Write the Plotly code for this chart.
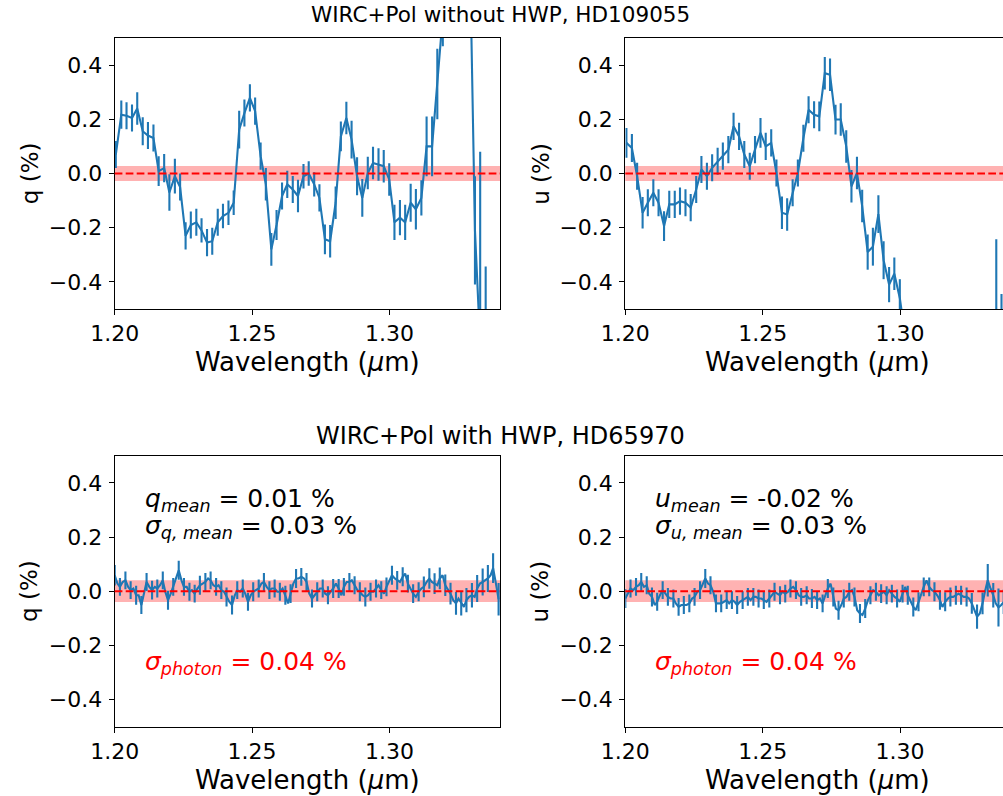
import plotly.graph_objects as go

# ---------------- data ----------------
WAVE_TOP = [1.2004, 1.2024, 1.2043, 1.2063, 1.2082, 1.2102, 1.2121, 1.2141, 1.2160, 1.2180,
            1.2199, 1.2219, 1.2238, 1.2258, 1.2277, 1.2297, 1.2316, 1.2336, 1.2355, 1.2375,
            1.2394, 1.2414, 1.2433, 1.2453, 1.2472, 1.2492, 1.2511, 1.2531, 1.2550, 1.2570,
            1.2589, 1.2609, 1.2628, 1.2648, 1.2667, 1.2687, 1.2706, 1.2726, 1.2745, 1.2765,
            1.2784, 1.2804, 1.2823, 1.2843, 1.2862, 1.2882, 1.2901, 1.2921, 1.2940, 1.2960,
            1.2979, 1.2999, 1.3018, 1.3038, 1.3057, 1.3077, 1.3096, 1.3116, 1.3135, 1.3155,
            1.3174, 1.3194, 1.3213, 1.3233, 1.3252, 1.3272, 1.3291, 1.3311, 1.3330, 1.3350,
            1.3369]

Q_TOP = [0.07, 0.217, 0.213, 0.205, 0.24, 0.156, 0.14, 0.131, 0.009, 0.02,
         -0.07, -0.01, -0.05, -0.23, -0.19, -0.18, -0.21, -0.255, -0.25, -0.18,
         -0.157, -0.145, -0.108, 0.162, 0.223, 0.279, 0.23, 0.064, -0.04, -0.28,
         -0.19, -0.083, -0.04, -0.059, -0.083, -0.01, 0.0, -0.04, -0.09, -0.243,
         -0.25, -0.108, 0.137, 0.205, 0.125, -0.01, -0.09, 0.002, 0.039, 0.033,
         0.027, -0.022, -0.18, -0.163, -0.18, -0.108, -0.132, -0.09, 0.10, 0.10,
         0.33, 0.62, 0.80, 1.10, 1.30, 1.20, 0.90, -0.21, -0.90, -1.20, -1.50]
Q_TOP_ERR = [0.05, 0.052, 0.05, 0.05, 0.06, 0.052, 0.05, 0.05, 0.055, 0.052,
             0.067, 0.064, 0.05, 0.05, 0.05, 0.05, 0.045, 0.05, 0.05, 0.05,
             0.045, 0.045, 0.045, 0.07, 0.05, 0.05, 0.05, 0.05, 0.06, 0.06,
             0.055, 0.05, 0.05, 0.05, 0.06, 0.045, 0.045, 0.045, 0.05, 0.055,
             0.06, 0.06, 0.055, 0.06, 0.07, 0.07, 0.07, 0.06, 0.06, 0.06,
             0.06, 0.06, 0.065, 0.065, 0.065, 0.07, 0.075, 0.065, 0.11, 0.11,
             0.13, 0.15, 0.18, 0.20, 0.25, 0.30, 0.30, 0.20, 0.98, 0.857, 0.40]

U_TOP = [0.113, 0.094, -0.01, -0.145, -0.108, -0.071, -0.108, -0.194, -0.114, -0.114,
         -0.102, -0.108, -0.126, -0.059, 0.015, -0.01, 0.021, 0.045, 0.064, 0.088,
         0.174, 0.137, 0.07, 0.027, 0.088, 0.15, 0.10, 0.113, 0.002, -0.145,
         -0.151, -0.071, 0.002, 0.13, 0.235, 0.217, 0.211, 0.37, 0.364, 0.199,
         0.199, 0.10, -0.047, 0.002, -0.12, -0.29, -0.27, -0.15, -0.32, -0.41,
         -0.37, -0.46, -0.62, -0.80, -0.95, -1.10, -1.20, -1.30, -1.25, -1.40,
         -1.50, -1.45, -1.60, -1.70, -1.60, -1.50, -1.40, -1.30, -1.20, -0.90, -1.00]
U_TOP_ERR = [0.055, 0.052, 0.05, 0.058, 0.05, 0.05, 0.05, 0.055, 0.05, 0.05,
             0.05, 0.05, 0.05, 0.05, 0.05, 0.05, 0.05, 0.05, 0.05, 0.05,
             0.05, 0.05, 0.05, 0.05, 0.05, 0.055, 0.05, 0.05, 0.05, 0.06,
             0.06, 0.05, 0.05, 0.05, 0.05, 0.05, 0.055, 0.06, 0.06, 0.055,
             0.06, 0.06, 0.06, 0.06, 0.06, 0.065, 0.07, 0.07, 0.07, 0.065,
             0.06, 0.07, 0.10, 0.20, 0.30, 0.30, 0.30, 0.30, 0.30, 0.30,
             0.30, 0.30, 0.30, 0.30, 0.30, 0.30, 0.30, 0.30, 0.30, 0.657, 0.555]

WAVE_BOT = [1.2000, 1.2010, 1.2019, 1.2029, 1.2039, 1.2049, 1.2058, 1.2068, 1.2078, 1.2087,
            1.2097, 1.2107, 1.2116, 1.2126, 1.2136, 1.2146, 1.2155, 1.2165, 1.2175, 1.2184,
            1.2194, 1.2204, 1.2213, 1.2223, 1.2233, 1.2243, 1.2252, 1.2262, 1.2272, 1.2281,
            1.2291, 1.2301, 1.2310, 1.2320, 1.2330, 1.2340, 1.2349, 1.2359, 1.2369, 1.2378,
            1.2388, 1.2398, 1.2407, 1.2417, 1.2427, 1.2437, 1.2446, 1.2456, 1.2466, 1.2475,
            1.2485, 1.2495, 1.2504, 1.2514, 1.2524, 1.2534, 1.2543, 1.2553, 1.2563, 1.2572,
            1.2582, 1.2592, 1.2601, 1.2611, 1.2621, 1.2631, 1.2640, 1.2650, 1.2660, 1.2669,
            1.2679, 1.2689, 1.2698, 1.2708, 1.2718, 1.2728, 1.2737, 1.2747, 1.2757, 1.2766,
            1.2776, 1.2786, 1.2795, 1.2805, 1.2815, 1.2825, 1.2834, 1.2844, 1.2854, 1.2863,
            1.2873, 1.2883, 1.2892, 1.2902, 1.2912, 1.2922, 1.2931, 1.2941, 1.2951, 1.2960,
            1.2970, 1.2980, 1.2989, 1.2999, 1.3009, 1.3019, 1.3028, 1.3038, 1.3048, 1.3057,
            1.3067, 1.3077, 1.3086, 1.3096, 1.3106, 1.3116, 1.3125, 1.3135, 1.3145, 1.3154,
            1.3164, 1.3174, 1.3183, 1.3193, 1.3203, 1.3213, 1.3222, 1.3232, 1.3242, 1.3251,
            1.3261, 1.3271, 1.3280, 1.3290, 1.3300, 1.3310, 1.3319, 1.3329, 1.3339, 1.3348,
            1.3358, 1.3368, 1.3377, 1.3387, 1.3397]

Q_BOT = [0.059, 0.028, 0.016, 0.034, 0.040, 0.016, 0.004, 0.010, -0.015, -0.015,
         -0.051, -0.009, 0.034, 0.016, 0.004, 0.016, 0.010, 0.022, 0.040, -0.002,
         -0.033, -0.009, 0.016, 0.047, 0.077, 0.040, 0.016, 0.016, -0.002, 0.004,
         -0.009, 0.010, 0.022, 0.028, 0.034, 0.047, 0.040, 0.022, 0.016, 0.022,
         0.004, -0.002, -0.021, -0.039, -0.051, -0.015, 0.004, -0.002, 0.010, -0.009,
         -0.039, -0.015, -0.002, 0.004, 0.010, 0.028, 0.034, 0.016, 0.004, 0.010,
         0.010, -0.002, -0.002, 0.010, -0.015, -0.045, -0.009, 0.028, 0.047, 0.047,
         0.053, 0.047, 0.034, -0.009, -0.027, -0.015, -0.002, 0.010, 0.010, -0.009,
         -0.015, -0.002, 0.010, 0.028, 0.010, -0.015, 0.016, 0.034, 0.034, 0.040,
         0.022, 0.004, -0.002, -0.015, -0.021, -0.015, -0.002, -0.002, 0.010, 0.022,
         0.004, -0.009, 0.016, 0.040, 0.059, 0.047, 0.040, 0.034, 0.053, 0.065,
         0.028, 0.010, -0.009, -0.021, -0.002, 0.010, 0.016, 0.034, 0.047, 0.034,
         0.028, 0.022, 0.047, 0.059, 0.022, 0.004, -0.009, -0.033, -0.045, -0.027,
         -0.045, -0.058, -0.033, -0.021, -0.015, -0.021, 0.010, 0.028, 0.034, 0.040,
         0.047, 0.059, 0.085, 0.030, -0.030]
# error bars are drawn on every second sample
Q_BOT_ERR = [0.038, 0.033, 0.033, 0.033, 0.035, 0.033, 0.033, 0.035, 0.033, 0.033,
             0.035, 0.033, 0.035, 0.033, 0.033, 0.033, 0.035, 0.033, 0.033, 0.033,
             0.033, 0.035, 0.035, 0.033, 0.033, 0.033, 0.035, 0.033, 0.033, 0.033,
             0.033, 0.033, 0.035, 0.035, 0.035, 0.033, 0.033, 0.033, 0.035, 0.033,
             0.033, 0.035, 0.035, 0.033, 0.033, 0.033, 0.035, 0.035, 0.033, 0.033,
             0.033, 0.035, 0.035, 0.035, 0.035, 0.033, 0.035, 0.035, 0.038, 0.038,
             0.038, 0.040, 0.040, 0.040, 0.042, 0.045, 0.045, 0.045, 0.050, 0.050,
             0.050, 0.055, 0.060]

U_BOT = [-0.027, -0.009, 0.010, 0.004, 0.016, 0.022, 0.034, 0.016, 0.022, -0.009,
         -0.021, -0.051, -0.039, -0.015, 0.004, -0.009, -0.021, -0.027, -0.027, -0.045,
         -0.058, -0.051, -0.051, -0.051, -0.045, -0.027, -0.021, -0.002, 0.004, 0.028,
         0.047, 0.028, 0.022, -0.002, -0.045, -0.045, -0.045, -0.039, -0.033, -0.045,
         -0.033, -0.039, -0.051, -0.039, -0.033, -0.027, -0.021, -0.033, -0.021, -0.021,
         -0.027, -0.027, -0.033, -0.039, -0.027, -0.015, -0.002, -0.009, -0.015, -0.002,
         -0.009, -0.002, 0.010, 0.016, 0.004, -0.015, -0.021, -0.021, -0.015, -0.027,
         -0.027, -0.021, -0.033, -0.027, -0.045, -0.015, 0.010, 0.028, -0.021, -0.064,
         -0.070, -0.051, -0.027, -0.021, -0.002, 0.004, -0.021, -0.070, -0.082, -0.088,
         -0.064, -0.033, -0.015, 0.004, -0.002, -0.015, -0.009, -0.002, -0.015, 0.004,
         -0.009, -0.021, -0.027, -0.039, -0.009, 0.016, -0.015, -0.039, -0.058, -0.070,
         -0.039, -0.009, 0.016, 0.040, 0.016, 0.004, -0.002, -0.015, -0.033, -0.058,
         -0.039, -0.027, -0.021, -0.021, -0.015, -0.009, -0.015, -0.021, -0.021, -0.027,
         -0.045, -0.070, -0.094, -0.082, -0.045, 0.004, 0.040, 0.010, -0.015, -0.045,
         -0.060, -0.051, -0.039, -0.027, -0.015]
U_BOT_ERR = [0.035, 0.033, 0.033, 0.033, 0.033, 0.035, 0.033, 0.033, 0.033, 0.033,
             0.033, 0.033, 0.033, 0.033, 0.033, 0.035, 0.033, 0.033, 0.033, 0.033,
             0.033, 0.033, 0.033, 0.033, 0.033, 0.033, 0.033, 0.033, 0.033, 0.033,
             0.033, 0.033, 0.033, 0.033, 0.033, 0.035, 0.033, 0.033, 0.035, 0.035,
             0.035, 0.033, 0.033, 0.035, 0.035, 0.035, 0.033, 0.033, 0.035, 0.033,
             0.033, 0.033, 0.033, 0.035, 0.035, 0.035, 0.035, 0.035, 0.035, 0.035,
             0.035, 0.035, 0.035, 0.035, 0.035, 0.038, 0.045, 0.040, 0.060, 0.045,
             0.070, 0.045, 0.045]

SIGMA_TOP = 0.028   # half-width of the shaded band, top row (%)
SIGMA_BOT = 0.04    # sigma_photon, bottom row (%)

ROW_TITLES = ["WIRC+Pol without HWP, HD109055", "WIRC+Pol with HWP, HD65970"]
X_TICKS = [1.20, 1.25, 1.30]
X_TICK_LABELS = ["1.20", "1.25", "1.30"]
Y_TICKS = [-0.4, -0.2, 0.0, 0.2, 0.4]
Y_TICK_LABELS = ["\u22120.4", "\u22120.2", "0.0", "0.2", "0.4"]

# ---------------- layout helpers ----------------
FIG_W, FIG_H = 1003, 796
BLUE = "#1f77b4"
FONT = "DejaVu Sans"
TICK_SIZE = 22
XLAB_SIZE = 26
YLAB_SIZE = 23
TITLE_SIZES = (21.5, 24)
STAT_SIZE = 25


def px(x):
    return x / FIG_W


def py(y):
    return 1 - y / FIG_H


LEFT_X = (114.7, 500.0)
RIGHT_X = (625.3, 1003.0)
TOP_Y = (38.0, 309.0)
BOT_Y = (455.7, 726.7)
PX_PER_UM = 137.4 / 0.05
RIGHT_FULL_END = 1010.3  # the right column's axes run past the window edge

panels = [
    dict(n="", xs=LEFT_X, ys=TOP_Y, wave=WAVE_TOP, val=Q_TOP, err=Q_TOP_ERR, step=1,
         sig=SIGMA_TOP, ylab="q (%)", right=False),
    dict(n="2", xs=RIGHT_X, ys=TOP_Y, wave=WAVE_TOP, val=U_TOP, err=U_TOP_ERR, step=1,
         sig=SIGMA_TOP, ylab="u (%)", right=True),
    dict(n="3", xs=LEFT_X, ys=BOT_Y, wave=WAVE_BOT, val=Q_BOT, err=Q_BOT_ERR, step=2,
         sig=SIGMA_BOT, ylab="q (%)", right=False),
    dict(n="4", xs=RIGHT_X, ys=BOT_Y, wave=WAVE_BOT, val=U_BOT, err=U_BOT_ERR, step=2,
         sig=SIGMA_BOT, ylab="u (%)", right=True),
]

fig = go.Figure()
shapes = []
annotations = []
layout_axes = {}

for p in panels:
    n = p["n"]
    xa, ya = "x" + n, "y" + n
    x0, x1 = p["xs"]
    y0, y1 = p["ys"]
    xmax = 1.20 + (x1 - x0) / PX_PER_UM

    # line
    fig.add_trace(go.Scatter(x=p["wave"], y=p["val"], mode="lines",
                             line=dict(color=BLUE, width=2.1),
                             xaxis=xa, yaxis=ya, showlegend=False, hoverinfo="skip"))
    # error bars
    s = p["step"]
    fig.add_trace(go.Scatter(x=p["wave"][::s], y=p["val"][::s], mode="markers",
                             marker=dict(size=1, color="rgba(0,0,0,0)"),
                             error_y=dict(type="data", array=p["err"], visible=True,
                                          color=BLUE, thickness=2.1, width=0),
                             xaxis=xa, yaxis=ya, showlegend=False, hoverinfo="skip"))

    # band and dashed zero line
    shapes.append(dict(type="rect", xref=xa + " domain", yref=ya, x0=0, x1=1,
                       y0=-p["sig"], y1=p["sig"], fillcolor="rgba(255,0,0,0.3)",
                       line=dict(width=0), layer="below"))
    shapes.append(dict(type="line", xref=xa + " domain", yref=ya, x0=0, x1=1,
                       y0=0, y1=0, line=dict(color="red", width=2.1, dash="7.7px,3.3px"),
                       layer="above"))

    layout_axes["xaxis" + n] = dict(
        domain=[px(x0), min(1.0, px(x1))], anchor=ya, range=[1.20, xmax],
        tickvals=X_TICKS, ticktext=X_TICK_LABELS, ticks="outside", ticklen=5,
        tickwidth=1.1, tickcolor="black", showline=True, linecolor="black",
        linewidth=1.1, mirror=True, showgrid=False, zeroline=False,
        tickfont=dict(family=FONT, size=TICK_SIZE, color="black"), automargin=False)
    layout_axes["yaxis" + n] = dict(
        domain=[py(y1), py(y0)], anchor=xa, range=[-0.5, 0.5],
        tickvals=Y_TICKS, ticktext=Y_TICK_LABELS, ticks="outside", ticklen=5,
        tickwidth=1.1, tickcolor="black", showline=True, linecolor="black",
        linewidth=1.1, mirror=not p["right"], showgrid=False, zeroline=False,
        ticklabelstandoff=2,
        tickfont=dict(family=FONT, size=TICK_SIZE, color="black"), automargin=False)

    # axis titles
    x_end = RIGHT_FULL_END if p["right"] else x1
    annotations.append(dict(text="Wavelength (<i>μ</i>m)", xref="paper", yref="paper",
                            x=px((x0 + x_end) / 2), y=py(y1 + 53), xanchor="center",
                            yanchor="middle", showarrow=False,
                            font=dict(family=FONT, size=XLAB_SIZE, color="black")))
    annotations.append(dict(text=p["ylab"], xref="paper", yref="paper",
                            x=px(x0 - 85), y=py((y0 + y1) / 2), xanchor="center",
                            yanchor="middle", textangle=-90, showarrow=False,
                            font=dict(family=FONT, size=YLAB_SIZE, color="black")))

# row titles
for title, ty, ts in zip(ROW_TITLES, (15, 436), TITLE_SIZES):
    annotations.append(dict(text=title, xref="paper", yref="paper", x=px(500), y=py(ty),
                            xanchor="center", yanchor="middle", showarrow=False,
                            font=dict(family=FONT, size=ts, color="black")))

# statistics text
STAT_TEXT = [
    (143, 500, "<i>q</i><sub><i>mean</i></sub> = 0.01 %", "black"),
    (143, 527, "<i>σ</i><sub><i>q, mean</i></sub> = 0.03 %", "black"),
    (143, 663, "<i>σ</i><sub><i>photon</i></sub> = 0.04 %", "red"),
    (653, 500, "<i>u</i><sub><i>mean</i></sub> = -0.02 %", "black"),
    (653, 527, "<i>σ</i><sub><i>u, mean</i></sub> = 0.03 %", "black"),
    (653, 663, "<i>σ</i><sub><i>photon</i></sub> = 0.04 %", "red"),
]
for x, y, t, c in STAT_TEXT:
    annotations.append(dict(text=t, xref="paper", yref="paper", x=px(x), y=py(y),
                            xanchor="left", yanchor="middle", showarrow=False,
                            font=dict(family=FONT, size=STAT_SIZE, color=c)))

fig.update_layout(
    width=FIG_W, height=FIG_H, margin=dict(l=0, r=0, t=0, b=0),
    paper_bgcolor="white", plot_bgcolor="white", showlegend=False,
    shapes=shapes, annotations=annotations, font=dict(family=FONT, color="black"),
    **layout_axes)

# remove the browser's default 8px page margin so the figure fills the window
fig.write_html("out.html",
               config={"displayModeBar": False},
               post_script="document.body.style.margin='0px';"
                           "document.documentElement.style.overflow='hidden';")
